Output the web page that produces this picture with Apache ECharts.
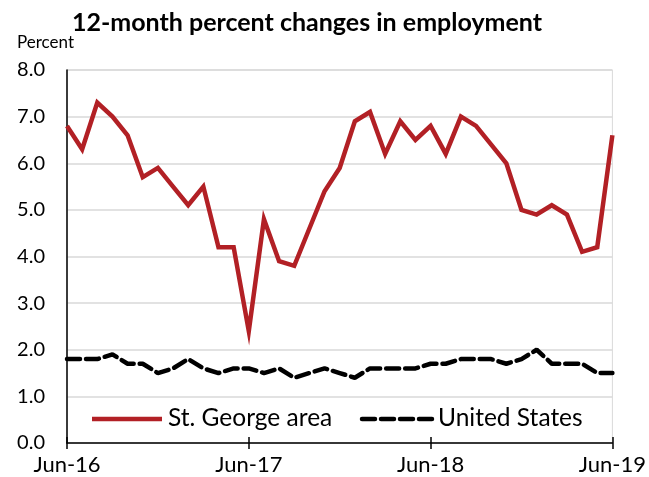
<!DOCTYPE html>
<html>
<head>
<meta charset="utf-8">
<script src="https://cdn.jsdelivr.net/npm/echarts@6/dist/echarts.min.js"></script>
<style>
  html, body { margin: 0; padding: 0; background: #fff; }
  #chart { width: 649px; height: 477px; }
</style>
</head>
<body>
<div id="chart"></div>
<script>
// Monthly periods, Jun-16 through Jun-19
const months = [
  'Jun-16','Jul-16','Aug-16','Sep-16','Oct-16','Nov-16','Dec-16',
  'Jan-17','Feb-17','Mar-17','Apr-17','May-17','Jun-17','Jul-17','Aug-17','Sep-17','Oct-17','Nov-17','Dec-17',
  'Jan-18','Feb-18','Mar-18','Apr-18','May-18','Jun-18','Jul-18','Aug-18','Sep-18','Oct-18','Nov-18','Dec-18',
  'Jan-19','Feb-19','Mar-19','Apr-19','May-19','Jun-19'
];

// 12-month percent change, St. George area
const stGeorge = [
  6.8, 6.3, 7.3, 7.0, 6.6, 5.7, 5.9,
  5.5, 5.1, 5.5, 4.2, 4.2, 2.4, 4.8, 3.9, 3.8, 4.6, 5.4, 5.9,
  6.9, 7.1, 6.2, 6.9, 6.5, 6.8, 6.2, 7.0, 6.8, 6.4, 6.0, 5.0,
  4.9, 5.1, 4.9, 4.1, 4.2, 6.6
];

// 12-month percent change, United States
const unitedStates = [
  1.8, 1.8, 1.8, 1.9, 1.7, 1.7, 1.5,
  1.6, 1.8, 1.6, 1.5, 1.6, 1.6, 1.5, 1.6, 1.4, 1.5, 1.6, 1.5,
  1.4, 1.6, 1.6, 1.6, 1.6, 1.7, 1.7, 1.8, 1.8, 1.8, 1.7, 1.8,
  2.0, 1.7, 1.7, 1.7, 1.5, 1.5
];

const seriesNames = ['St. George area', 'United States'];
const yTicks = [0, 1, 2, 3, 4, 5, 6, 7, 8];

const FONT = 'Lato, "Open Sans", sans-serif';
const RED = '#b22025';
const DASH = [13, 6];
const showEvery12 = (i) => i % 12 === 0;

const chart = echarts.init(document.getElementById('chart'), null, { renderer: 'canvas' });

// Legend keys drawn inside the plot, below the lines
function legendKey(x, y, color, dash, label) {
  return {
    type: 'group',
    children: [{
      type: 'line',
      shape: { x1: x, y1: y, x2: x + 70, y2: y },
      style: { stroke: color, lineWidth: 4.5, lineDash: dash, lineCap: dash ? 'round' : 'butt' }
    }, {
      type: 'text',
      x: x + 76,
      y: y - 1,
      style: {
        text: label, fontFamily: FONT, fontSize: 24.5, fill: '#000',
        verticalAlign: 'middle', align: 'left'
      }
    }]
  };
}

chart.setOption({
  animation: false,
  backgroundColor: '#ffffff',
  title: {
    text: '12-month percent changes in employment',
    left: 302,
    textAlign: 'center',
    top: 5,
    textStyle: { fontFamily: FONT, fontWeight: 'bold', fontSize: 25, color: '#000' }
  },
  graphic: [{
    type: 'text',
    left: 17,
    top: 34,
    style: { text: 'Percent', fontFamily: FONT, fontSize: 17, fill: '#000' }
  },
    legendKey(92, 419, RED, null, seriesNames[0]),
    legendKey(362, 419, '#000', DASH, seriesNames[1])
  ],
  grid: {
    left: 67, right: 33, top: 70, bottom: 34,
    show: true, borderColor: '#d9d9d9', borderWidth: 1
  },
  xAxis: [{
    type: 'category',
    data: months,
    boundaryGap: false,
    axisLine: { lineStyle: { color: '#000', width: 1.5 } },
    axisTick: { interval: showEvery12, length: 6, lineStyle: { color: '#000', width: 1.5 } },
    axisLabel: {
      interval: showEvery12, margin: 11,
      fontFamily: FONT, fontSize: 22, color: '#000'
    },
    splitLine: { show: false }
  }, {
    type: 'category',
    data: months,
    boundaryGap: false,
    position: 'bottom',
    axisLine: { show: false },
    axisTick: { inside: true, interval: showEvery12, length: 6, lineStyle: { color: '#000', width: 1.5 } },
    axisLabel: { show: false },
    splitLine: { show: false }
  }],
  yAxis: {
    type: 'value',
    min: yTicks[0],
    max: yTicks[yTicks.length - 1],
    interval: 1,
    axisLine: { show: true, lineStyle: { color: '#000', width: 1.5 } },
    axisTick: { show: false },
    axisLabel: {
      margin: 22,
      formatter: (v) => v.toFixed(1),
      fontFamily: FONT, fontSize: 20, color: '#000'
    },
    splitLine: { lineStyle: { color: '#d9d9d9', width: 1.5 } }
  },
  series: [{
    name: seriesNames[0],
    type: 'line',
    data: stGeorge,
    symbol: 'none',
    lineStyle: { color: RED, width: 4.5, join: 'miter' },
    itemStyle: { color: RED },
    z: 3
  }, {
    name: seriesNames[1],
    type: 'line',
    data: unitedStates,
    symbol: 'none',
    lineStyle: { color: '#000', width: 4.5, type: DASH, cap: 'round' },
    itemStyle: { color: '#000' },
    z: 3
  }]
});
</script>
</body>
</html>
